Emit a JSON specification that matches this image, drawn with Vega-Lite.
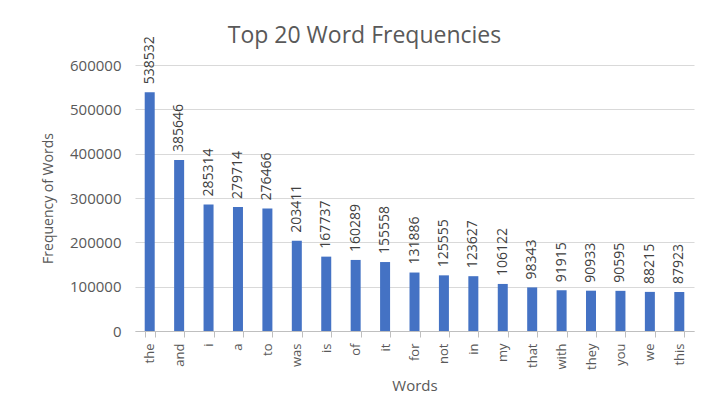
{
  "$schema": "https://vega.github.io/schema/vega-lite/v6.json",
  "autosize": "none",
  "width": 559,
  "height": 266,
  "padding": {"left": 135, "top": 65, "right": 10, "bottom": 83},
  "background": "white",
  "title": {
    "text": "Top 20 Word Frequencies",
    "font": "Open Sans",
    "fontSize": 23,
    "fontWeight": "normal",
    "color": "#595959",
    "anchor": "middle",
    "dx": -50,
    "offset": 22,
    "dy": 34
  },
  "data": {
    "values": [
      {"word": "the", "count": 538532},
      {"word": "and", "count": 385646},
      {"word": "i", "count": 285314},
      {"word": "a", "count": 279714},
      {"word": "to", "count": 276466},
      {"word": "was", "count": 203411},
      {"word": "is", "count": 167737},
      {"word": "of", "count": 160289},
      {"word": "it", "count": 155558},
      {"word": "for", "count": 131886},
      {"word": "not", "count": 125555},
      {"word": "in", "count": 123627},
      {"word": "my", "count": 106122},
      {"word": "that", "count": 98343},
      {"word": "with", "count": 91915},
      {"word": "they", "count": 90933},
      {"word": "you", "count": 90595},
      {"word": "we", "count": 88215},
      {"word": "this", "count": 87923}
    ]
  },
  "encoding": {
    "x": {
      "field": "word",
      "type": "nominal",
      "sort": null,
      "scale": {"paddingInner": 0.66, "paddingOuter": 0.33},
      "axis": {
        "title": "Words",
        "titleFont": "Open Sans",
        "titleFontSize": 15,
        "titleFontWeight": "normal",
        "titleColor": "#595959",
        "titlePadding": 9,
        "labelAngle": -90,
        "labelFont": "Open Sans",
        "labelFontSize": 13,
        "labelColor": "#595959",
        "labelPadding": 6,
        "tickBand": "extent",
        "tickColor": "#bfbfbf",
        "tickSize": 6,
        "domainColor": "#bfbfbf",
        "grid": false
      }
    },
    "y": {
      "field": "count",
      "type": "quantitative",
      "scale": {"domain": [0, 600000], "nice": false},
      "axis": {
        "title": "Frequency of Words",
        "titleFont": "Open Sans",
        "titleFontSize": 14,
        "titleFontWeight": "normal",
        "titleColor": "#595959",
        "titlePadding": 14,
        "values": [0, 100000, 200000, 300000, 400000, 500000, 600000],
        "format": "d",
        "labelFont": "Open Sans",
        "labelFontSize": 15,
        "labelColor": "#595959",
        "labelPadding": 14,
        "domain": false,
        "ticks": false,
        "gridColor": "#d9d9d9",
        "gridWidth": 1
      }
    }
  },
  "layer": [
    {"mark": {"type": "bar", "color": "#4472C4"}},
    {
      "mark": {
        "type": "text",
        "angle": 270,
        "align": "left",
        "baseline": "middle",
        "dx": 8,
        "font": "Open Sans",
        "fontSize": 14,
        "color": "#404040"
      },
      "encoding": {"text": {"field": "count", "type": "quantitative", "format": "d"}}
    }
  ],
  "config": {"view": {"stroke": null}}
}
